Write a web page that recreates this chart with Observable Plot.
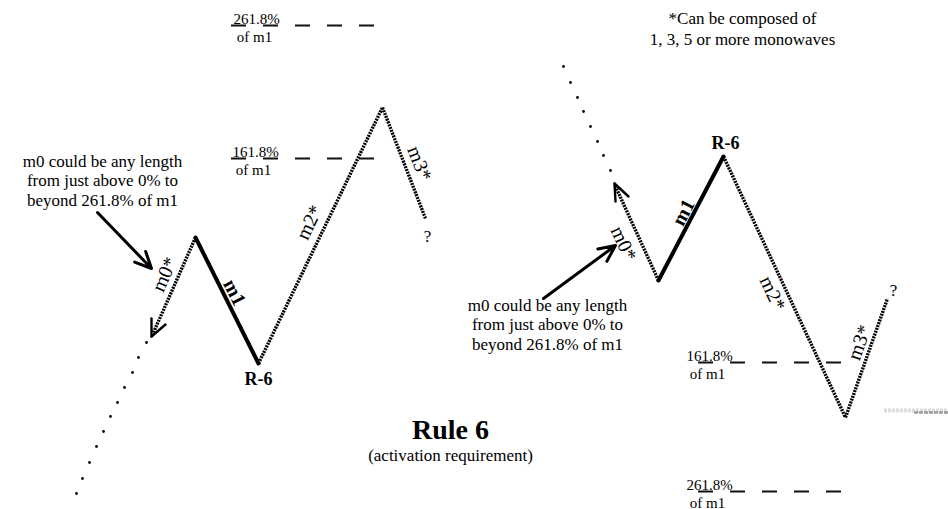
<!DOCTYPE html>
<html>
<head>
<meta charset="utf-8">
<script src="https://cdn.jsdelivr.net/npm/d3@7"></script>
<script src="https://cdn.jsdelivr.net/npm/@observablehq/plot@0.6"></script>
<style>
  html, body { margin: 0; padding: 0; background: #fff; }
  #chart { width: 948px; height: 509px; }
  #chart text { font-family: 'Liberation Serif', 'Times New Roman', Times, serif; }
</style>
</head>
<body>
<div id="chart"></div>
<script>
// ---- Diagram data (diagram coordinate units, y grows downward) ----
// Densely dotted monowaves (m0, m2, m3 of each pattern)
const denseSegments = [
  {id: "L-m0", x1: 195, y1: 237, x2: 153, y2: 332},
  {id: "L-m2", x1: 258, y1: 363, x2: 382, y2: 107},
  {id: "L-m3", x1: 382, y1: 107, x2: 425, y2: 218},
  {id: "R-m0", x1: 658, y1: 280, x2: 615, y2: 186},
  {id: "R-m2", x1: 723, y1: 156, x2: 845, y2: 417},
  {id: "R-m3", x1: 845, y1: 417, x2: 887, y2: 298}
];
// Solid m1 monowaves
const solidSegments = [
  {id: "L-m1", x1: 195, y1: 237, x2: 258, y2: 363},
  {id: "R-m1", x1: 658, y1: 280, x2: 723, y2: 156}
];
// Sparse dotted continuation of m0
const sparseDotsLeft = [
  {x: 146, y: 342}, {x: 138, y: 357}, {x: 132, y: 372}, {x: 124, y: 387},
  {x: 117, y: 402}, {x: 110, y: 416}, {x: 103, y: 431}, {x: 96, y: 446},
  {x: 89, y: 462}, {x: 82, y: 478}, {x: 76, y: 493}
];
const sparseDotsRight = [
  {x: 563, y: 66}, {x: 570, y: 82}, {x: 577, y: 97}, {x: 583, y: 111},
  {x: 590, y: 126}, {x: 597, y: 141}, {x: 603, y: 155}, {x: 610, y: 170}
];
// Open arrow heads at the end of m0: tip and the two barb ends
const m0HeadBarbs = [
  {x1: 151, y1: 336, x2: 151, y2: 318},
  {x1: 151, y1: 336, x2: 165, y2: 324},
  {x1: 614, y1: 183, x2: 615, y2: 201},
  {x1: 614, y1: 183, x2: 628, y2: 196}
];
// Annotation arrows
const noteArrows = [
  {x1: 97, y1: 212, x2: 151, y2: 268},
  {x1: 543, y1: 298, x2: 615, y2: 245}
];
// Fibonacci level lines
const levelLines = [
  {pct: "261.8%", x1: 231, x2: 375, y: 25, lx: 256},
  {pct: "161.8%", x1: 231, x2: 375, y: 158, lx: 255},
  {pct: "161.8%", x1: 698, x2: 841, y: 362, lx: 709},
  {pct: "261.8%", x1: 698, x2: 841, y: 491, lx: 709}
];
// Wave labels, placed beside their segments
const waveLabels = [
  {text: "m0*", seg: "L-m0", x: 164, y: 274, bold: false},
  {text: "m1",  seg: "L-m1", x: 234, y: 292, bold: true},
  {text: "m2*", seg: "L-m2", x: 309, y: 222, bold: false},
  {text: "m3*", seg: "L-m3", x: 419, y: 163, bold: false},
  {text: "m0*", seg: "R-m0", x: 623, y: 243, bold: false},
  {text: "m1",  seg: "R-m1", x: 683, y: 212, bold: true},
  {text: "m2*", seg: "R-m2", x: 772, y: 293, bold: false},
  {text: "m3*", seg: "R-m3", x: 859, y: 342, bold: false}
];
const r6Labels = [
  {text: "R-6", x: 258, y: 379},
  {text: "R-6", x: 725, y: 143}
];
const questionMarks = [
  {text: "?", x: 427, y: 236},
  {text: "?", x: 893, y: 290}
];
const notes = [
  {text: "m0 could be any length\nfrom just above 0% to\nbeyond 261.8% of m1", x: 102, y: 205},
  {text: "m0 could be any length\nfrom just above 0% to\nbeyond 261.8% of m1", x: 547, y: 349}
];
const compositionNote = [{text: "*Can be composed of\n1, 3, 5 or more monowaves", x: 742, y: 44}];
const titleText = [{text: "Rule 6", x: 450, y: 438}];
const subtitleText = [{text: "(activation requirement)", x: 450, y: 460}];
const scanSmudge = [
  {x1: 884, x2: 948, y: 410, tone: "light"},
  {x1: 914, x2: 948, y: 412, tone: "dark"}
];

// ---- helpers ----
const allSegments = [...denseSegments, ...solidSegments];
function segAngle(id) {
  const s = allSegments.find(d => d.id === id);
  let a = Math.atan2(s.y2 - s.y1, s.x2 - s.x1) * 180 / Math.PI;
  if (a > 90) a -= 180;
  if (a <= -90) a += 180;
  return a;
}
const serif = "'Liberation Serif', 'Times New Roman', Times, serif";
const levelText1 = levelLines.map(d => ({text: d.pct, x: d.lx, y: d.y - 2}));
const levelText2 = levelLines.map(d => ({text: "of m1", x: d.lx - 2, y: d.y + 16}));
const T = {fontFamily: serif, fill: "#000"};

const chart = Plot.plot({
  width: 948,
  height: 509,
  margin: 0,
  x: {domain: [0, 948], range: [0, 948], axis: null},
  y: {domain: [0, 509], range: [0, 509], axis: null},
  style: {background: "#fff", fontFamily: serif, overflow: "visible"},
  marks: [
    Plot.ruleY(scanSmudge.filter(d => d.tone === "light"), {y: "y", x1: "x1", x2: "x2", stroke: "#dcdcdc", strokeWidth: 4, strokeDasharray: "3,1"}),
    Plot.ruleY(scanSmudge.filter(d => d.tone === "dark"), {y: "y", x1: "x1", x2: "x2", stroke: "#9a9a9a", strokeWidth: 2.5, strokeDasharray: "4,1"}),
    Plot.ruleY(levelLines, {y: "y", x1: "x1", x2: "x2", stroke: "#111", strokeWidth: 2, strokeDasharray: "15,17"}),
    Plot.link(denseSegments, {x1: "x1", y1: "y1", x2: "x2", y2: "y2", stroke: "#000", strokeWidth: 3.4, strokeDasharray: "2,1"}),
    Plot.link(solidSegments, {x1: "x1", y1: "y1", x2: "x2", y2: "y2", stroke: "#000", strokeWidth: 4, strokeLinecap: "round"}),
    Plot.dot([...sparseDotsLeft, ...sparseDotsRight], {x: "x", y: "y", r: 1.4, fill: "#000", stroke: "none"}),
    Plot.link(m0HeadBarbs, {x1: "x1", y1: "y1", x2: "x2", y2: "y2", stroke: "#000", strokeWidth: 2.4, strokeLinecap: "round"}),
    Plot.arrow(noteArrows, {x1: "x1", y1: "y1", x2: "x2", y2: "y2", stroke: "#000", strokeWidth: 3, headLength: 9, headAngle: 50}),
    Plot.text(levelText1, {...T, x: "x", y: "y", text: "text", fontSize: 15, lineAnchor: "bottom"}),
    Plot.text(levelText2, {...T, x: "x", y: "y", text: "text", fontSize: 15, lineAnchor: "bottom"}),
    Plot.text(waveLabels.filter(d => !d.bold), {...T, x: "x", y: "y", text: "text", rotate: d => segAngle(d.seg), fontSize: 20, lineAnchor: "middle"}),
    Plot.text(waveLabels.filter(d => d.bold), {...T, x: "x", y: "y", text: "text", rotate: d => segAngle(d.seg), fontSize: 20, fontWeight: "bold", lineAnchor: "middle"}),
    Plot.text(r6Labels, {...T, x: "x", y: "y", text: "text", fontSize: 18, fontWeight: "bold", lineAnchor: "middle"}),
    Plot.text(questionMarks, {...T, x: "x", y: "y", text: "text", fontSize: 17, lineAnchor: "middle"}),
    Plot.text(notes, {...T, x: "x", y: "y", text: "text", fontSize: 17, lineAnchor: "bottom", lineHeight: 1.12}),
    Plot.text(compositionNote, {...T, x: "x", y: "y", text: "text", fontSize: 17, lineAnchor: "bottom", lineHeight: 1.18}),
    Plot.text(titleText, {...T, x: "x", y: "y", text: "text", fontSize: 28, fontWeight: "bold", lineAnchor: "bottom"}),
    Plot.text(subtitleText, {...T, x: "x", y: "y", text: "text", fontSize: 17, lineAnchor: "bottom"})
  ]
});
document.getElementById("chart").append(chart);
</script>
</body>
</html>
